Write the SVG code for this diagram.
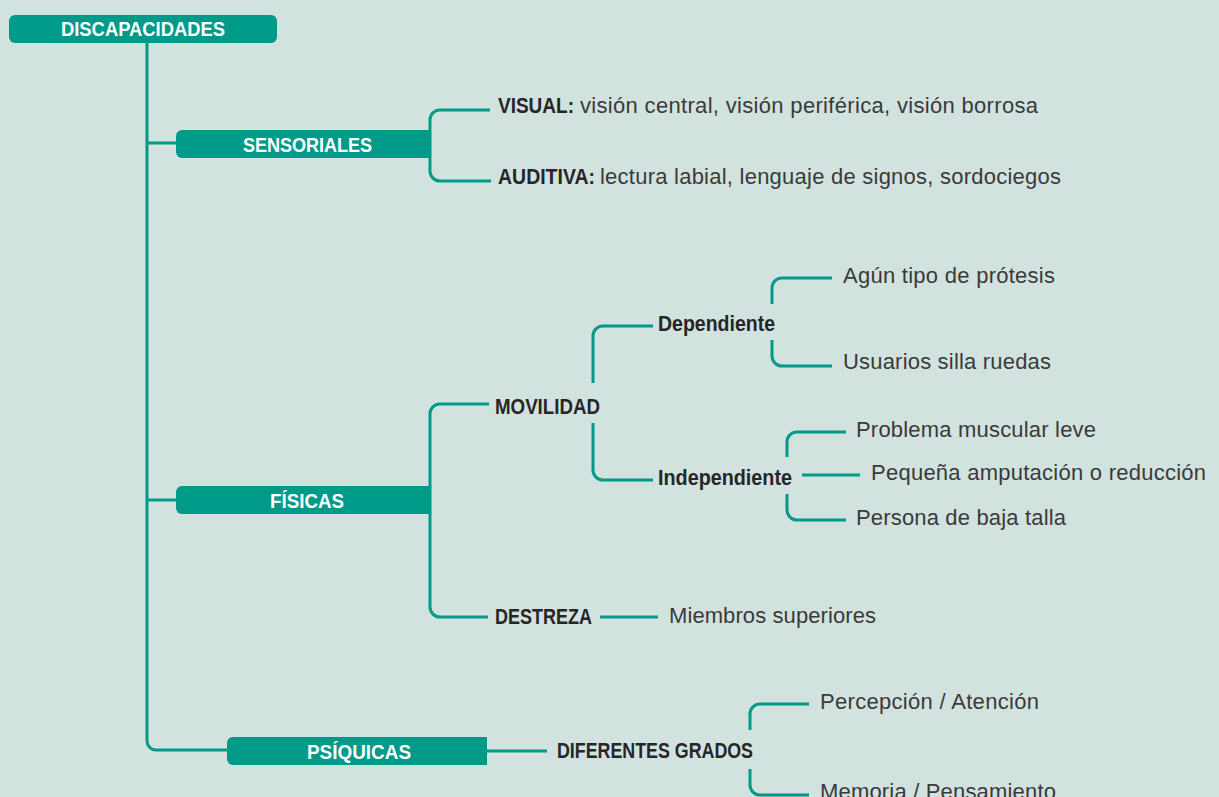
<svg xmlns="http://www.w3.org/2000/svg" width="1219" height="797" viewBox="0 0 1219 797">
<style>
.bg{fill:#d2e2df}
.box{fill:#009a88}
.ln{fill:none;stroke:#009a88;stroke-width:3}
.wt{font-family:"Liberation Sans",Arial,sans-serif;font-weight:bold;font-size:21px;fill:#ffffff}
.b{font-family:"Liberation Sans",Arial,sans-serif;font-weight:bold;font-size:22.5px;fill:#262626}
.r{font-family:"Liberation Sans",Arial,sans-serif;font-size:22px;fill:#3a3a3a}
</style>
<rect class="bg" x="0" y="0" width="1219" height="797"/>
<g id="connectors">
<path class="ln" d="M147,43 V741 A9,9 0 0 0 156,750 H227"/>
<path class="ln" d="M147,143 H176"/>
<path class="ln" d="M147,500 H176"/>
<path class="ln" d="M490,110 H440 A10,10 0 0 0 430,120 V171 A10,10 0 0 0 440,181 H491"/>
<path class="ln" d="M489,404 H440 A10,10 0 0 0 430,414 V607 A10,10 0 0 0 440,617 H488"/>
<path class="ln" d="M593,383 V336 A10,10 0 0 1 603,326 H653"/>
<path class="ln" d="M593,423 V470 A10,10 0 0 0 603,480 H653"/>
<path class="ln" d="M772,304 V288 A10,10 0 0 1 782,278 H832"/>
<path class="ln" d="M772,340 V356 A10,10 0 0 0 782,366 H832"/>
<path class="ln" d="M787,457 V442 A10,10 0 0 1 797,432 H846"/>
<path class="ln" d="M802,475 H860"/>
<path class="ln" d="M787,494 V510 A10,10 0 0 0 797,520 H846"/>
<path class="ln" d="M600,617 H658"/>
<path class="ln" d="M487,751 H547"/>
<path class="ln" d="M750,730 V714 A10,10 0 0 1 760,704 H809"/>
<path class="ln" d="M750,769 V785 A10,10 0 0 0 760,795 H809"/>
</g>
<g id="discapacidades">
<rect class="box" x="9" y="15" width="268" height="28" rx="6"/>
<text class="wt" x="61" y="36" textLength="164" lengthAdjust="spacingAndGlyphs">DISCAPACIDADES</text>
</g>
<g id="sensoriales">
<path class="box" d="M182,130 H431 V158 H182 A6,6 0 0 1 176,152 V136 A6,6 0 0 1 182,130 Z"/>
<text class="wt" x="243" y="152" textLength="129" lengthAdjust="spacingAndGlyphs">SENSORIALES</text>
</g>
<g id="visual">
<text class="b" x="498" y="113" textLength="76" lengthAdjust="spacingAndGlyphs">VISUAL:</text>
<text class="r" x="580" y="113" textLength="458">visión central, visión periférica, visión borrosa</text>
</g>
<g id="auditiva">
<text class="b" x="498" y="184" textLength="97" lengthAdjust="spacingAndGlyphs">AUDITIVA:</text>
<text class="r" x="600" y="184" textLength="461">lectura labial, lenguaje de signos, sordociegos</text>
</g>
<g id="fisicas">
<path class="box" d="M182,486 H431 V514 H182 A6,6 0 0 1 176,508 V492 A6,6 0 0 1 182,486 Z"/>
<text class="wt" x="270" y="508" textLength="74" lengthAdjust="spacingAndGlyphs">FÍSICAS</text>
</g>
<g id="movilidad">
<text class="b" x="495" y="414" textLength="105" lengthAdjust="spacingAndGlyphs">MOVILIDAD</text>
</g>
<g id="dependiente">
<text class="b" x="658" y="331" textLength="117" lengthAdjust="spacingAndGlyphs">Dependiente</text>
</g>
<g id="protesis">
<text class="r" x="843" y="283" textLength="212">Agún tipo de prótesis</text>
</g>
<g id="silla">
<text class="r" x="843" y="369" textLength="208">Usuarios silla ruedas</text>
</g>
<g id="independiente">
<text class="b" x="658" y="485" textLength="134" lengthAdjust="spacingAndGlyphs">Independiente</text>
</g>
<g id="muscular">
<text class="r" x="856" y="437" textLength="240">Problema muscular leve</text>
</g>
<g id="amputacion">
<text class="r" x="871" y="480" textLength="335">Pequeña amputación o reducción</text>
</g>
<g id="baja-talla">
<text class="r" x="856" y="525" textLength="210">Persona de baja talla</text>
</g>
<g id="destreza">
<text class="b" x="495" y="624" textLength="97" lengthAdjust="spacingAndGlyphs">DESTREZA</text>
</g>
<g id="miembros">
<text class="r" x="669" y="623" textLength="207">Miembros superiores</text>
</g>
<g id="psiquicas">
<path class="box" d="M233,737 H487 V765 H233 A6,6 0 0 1 227,759 V743 A6,6 0 0 1 233,737 Z"/>
<text class="wt" x="307" y="759" textLength="104" lengthAdjust="spacingAndGlyphs">PSÍQUICAS</text>
</g>
<g id="grados">
<text class="b" x="557" y="758" textLength="196" lengthAdjust="spacingAndGlyphs">DIFERENTES GRADOS</text>
</g>
<g id="percepcion">
<text class="r" x="820" y="709" textLength="219">Percepción / Atención</text>
</g>
<g id="memoria">
<text class="r" x="820" y="799" textLength="236">Memoria / Pensamiento</text>
</g>
</svg>
